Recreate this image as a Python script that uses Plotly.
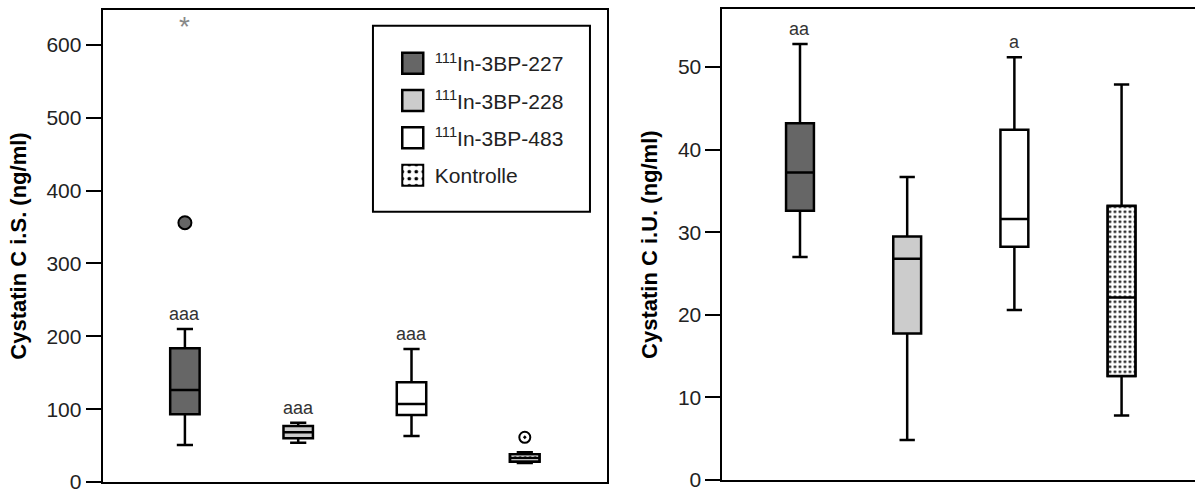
import plotly.graph_objects as go

# Groups (legend labels) and positions along the category axis
groups = ["<sup>111</sup>In-3BP-227", "<sup>111</sup>In-3BP-228",
          "<sup>111</sup>In-3BP-483", "Kontrolle"]
pos = [0, 1, 2, 3]
fills = ["#666666", "#cccccc", "#ffffff", "#ffffff"]

# Cystatin C in serum (ng/ml): box statistics
serum_lf = [50.8, 54.0, 63.2, 26.0]
serum_q1 = [93.0, 60.0, 92.0, 28.0]
serum_med = [126.3, 68.2, 107.1, 33.0]
serum_q3 = [183.6, 76.9, 136.9, 38.0]
serum_uf = [210.0, 81.4, 182.6, 41.0]
serum_sig = ["aaa", "aaa", "aaa", ""]

# Serum outliers: mild (circle) and extreme (asterisk)
serum_out_grp = [0, 3]
serum_out_val = [356.0, 61.4]
serum_ext_grp = [0]
serum_ext_val = [630.6]

# Cystatin C in urine (ng/ml): box statistics
urine_lf = [27.0, 4.85, 20.6, 7.8]
urine_q1 = [32.6, 17.75, 28.25, 12.6]
urine_med = [37.25, 26.8, 31.6, 22.1]
urine_q3 = [43.2, 29.5, 42.4, 33.2]
urine_uf = [52.8, 36.7, 51.2, 47.9]
urine_sig = ["aa", "", "a", ""]

FONT = "Liberation Sans, Arial, sans-serif"
BOXW = 0.26

fig = go.Figure()


def add_panel(xa, ya, lf, q1, med, q3, uf, legend):
    for i in range(4):
        dotted = groups[i] == "Kontrolle"
        if dotted:
            # stippled fill of the control box, drawn beneath the box outline
            fig.add_trace(go.Bar(
                x=[pos[i]], y=[q3[i] - q1[i]], base=[q1[i]], width=BOXW,
                marker=dict(color="white",
                            line=dict(color="black", width=2),
                            pattern=dict(shape=".", fgcolor="black",
                                         bgcolor="white", size=5,
                                         solidity=0.22, fillmode="replace")),
                name=groups[i], legendgroup=str(i), showlegend=legend,
                xaxis=xa, yaxis=ya, hoverinfo="skip"))
        fig.add_trace(go.Box(
            x=[pos[i]], q1=[q1[i]], median=[med[i]], q3=[q3[i]],
            lowerfence=[lf[i]], upperfence=[uf[i]],
            width=BOXW, whiskerwidth=0.55,
            fillcolor="rgba(0,0,0,0)" if dotted else fills[i],
            line=dict(color="black", width=2.5),
            name=groups[i], legendgroup=str(i),
            showlegend=legend and not dotted,
            boxpoints=False, xaxis=xa, yaxis=ya))


add_panel("x", "y", serum_lf, serum_q1, serum_med, serum_q3, serum_uf, True)
add_panel("x2", "y2", urine_lf, urine_q1, urine_med, urine_q3, urine_uf, False)

# outliers of the serum panel
fig.add_trace(go.Scatter(
    x=[pos[g] for g in serum_out_grp[:1]], y=serum_out_val[:1], mode="markers",
    marker=dict(symbol="circle", size=13, color="#666666",
                line=dict(color="black", width=2)),
    showlegend=False, xaxis="x", yaxis="y"))
fig.add_trace(go.Scatter(
    x=[pos[g] for g in serum_out_grp[1:]], y=serum_out_val[1:], mode="markers",
    marker=dict(symbol="circle-open-dot", size=11, color="black",
                line=dict(color="black", width=2)),
    showlegend=False, xaxis="x", yaxis="y"))

annotations = []
# extreme value drawn as an asterisk glyph centred on its value
for g, v in zip(serum_ext_grp, serum_ext_val):
    annotations.append(dict(
        x=pos[g], y=v, xref="x", yref="y", text="*", showarrow=False,
        yanchor="middle", yshift=-4,
        font=dict(family=FONT, size=28, color="#888888")))

# significance letters above the upper whiskers
for xa, ya, sig, uf in (("x", "y", serum_sig, serum_uf),
                        ("x2", "y2", urine_sig, urine_uf)):
    for i, s in enumerate(sig):
        if s:
            annotations.append(dict(
                x=pos[i], y=uf[i], xref=xa, yref=ya, text=s,
                showarrow=False, yanchor="bottom", yshift=3,
                font=dict(family=FONT, size=18, color="#333333")))

axis_common = dict(showgrid=False, zeroline=False, showline=True,
                   linecolor="black", linewidth=2, automargin=False)
yaxis_common = dict(axis_common, ticks="outside", ticklen=15, tickwidth=2,
                    tickcolor="black", ticklabeloverflow="allow",
                    tickfont=dict(family=FONT, size=21, color="#222222"))

fig.update_layout(
    width=1195, height=490,
    margin=dict(l=0, r=0, t=0, b=0, autoexpand=False),
    paper_bgcolor="white", plot_bgcolor="white",
    font=dict(family=FONT, color="black"),
    xaxis=dict(axis_common, domain=[0.0859, 0.508], range=[-0.726, 3.726],
               mirror=True, showticklabels=False, ticks=""),
    yaxis=dict(yaxis_common, domain=[0.0163, 0.9796], range=[0, 648],
               mirror=True, tickvals=[0, 100, 200, 300, 400, 500, 600],
               title=dict(text="<b>Cystatin C i.S. (ng/ml)</b>", standoff=14,
                          font=dict(family=FONT, size=22, color="black"))),
    xaxis2=dict(axis_common, domain=[0.6046, 1.0], range=[-0.723, 3.685],
                mirror=True, showticklabels=False, ticks="", anchor="y2"),
    yaxis2=dict(yaxis_common, domain=[0.0204, 0.981], range=[0, 57],
                anchor="x2", tickvals=[0, 10, 20, 30, 40, 50],
                title=dict(text="<b>Cystatin C i.U. (ng/ml)</b>", standoff=14,
                           font=dict(family=FONT, size=22, color="black"))),
    showlegend=True,
    legend=dict(x=0.327, y=0.912, xanchor="left", yanchor="top",
                bgcolor="rgba(0,0,0,0)", borderwidth=0,
                tracegroupgap=7, traceorder="grouped", itemwidth=34,
                font=dict(family=FONT, size=21, color="#222222")),
    shapes=[dict(type="rect", xref="paper", yref="paper",
                 x0=0.3121, x1=0.4937, y0=0.5680, y1=0.9476,
                 line=dict(color="black", width=2), fillcolor="rgba(0,0,0,0)")],
    annotations=annotations,
    bargap=0,
)

# enlarge the legend swatches about their own centre (stroke width kept)
post = """
var gd = document.getElementById('{plot_id}');
function growSwatches() {
  gd.querySelectorAll('.legend .legendpoints path').forEach(function (p) {
    var base = p.getAttribute('data-base-transform');
    if (base === null) {
      base = p.getAttribute('transform') || '';
      p.setAttribute('data-base-transform', base);
    }
    p.setAttribute('transform', base + ' scale(1.75)');
    p.style.vectorEffect = 'non-scaling-stroke';
  });
}
growSwatches();
gd.on('plotly_afterplot', growSwatches);
"""

fig.write_html("out.html", post_script=post)
